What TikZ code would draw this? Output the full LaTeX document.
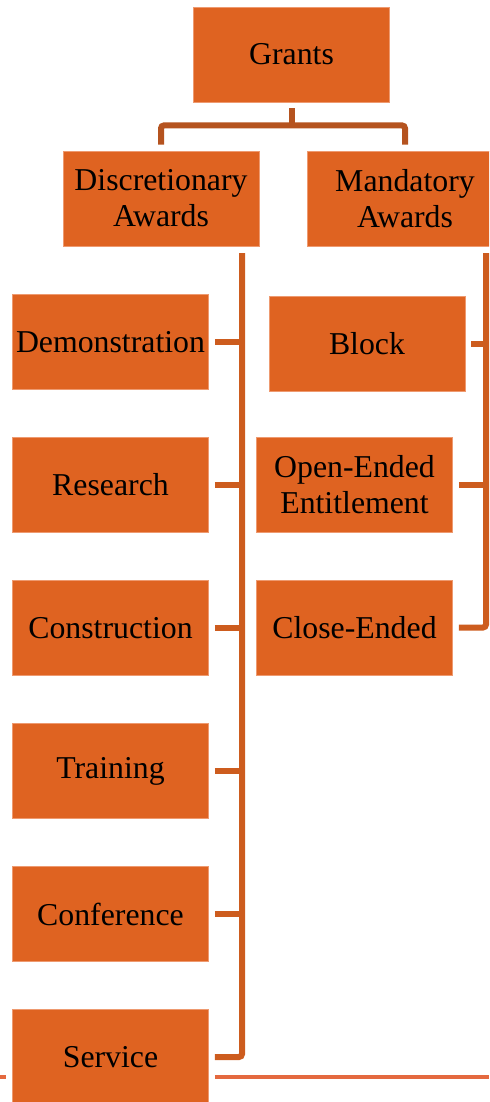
\documentclass[tikz,border=0pt]{standalone}
\usepackage{fontspec}
\setmainfont{Liberation Serif}
\newfontfamily\grantfont{Liberation Serif}
\usepackage{tikz}
\usetikzlibrary{calc}
\usetikzlibrary{positioning}
\usepackage{xcolor}
\definecolor{grant-fill}{HTML}{DF6321}
\definecolor{grant-edge}{HTML}{EE9A70}
\definecolor{grant-line}{HTML}{CD5C1E}
\definecolor{grant-top}{HTML}{B5531F}
\definecolor{grant-rule}{HTML}{E4693F}
\tikzset{x=0.5pt, y=-0.5pt, every text node part/.style={align=center, font={\grantfont\fontsize{15.9}{18}\selectfont}}}
\tikzstyle{block} = [draw=grant-edge, line width=0.4pt, fill=grant-fill, minimum width=98pt, minimum height=47.5pt, inner sep=0pt, text=black]
\tikzstyle{ln} = [draw=grant-line, line width=3pt, rounded corners=1.5pt]
\tikzstyle{lntop} = [draw=grant-top, line width=3pt, rounded corners=1.5pt]
\begin{document}
\begin{tikzpicture}
      \clip (0,0) rectangle (489,1102);
      \node[block] (grants) at (291.5,54.5) {Grants};
      \node[block] (disc) at (161,198.5) {Discretionary\\Awards};
      \node[block] (mand) at (405,198.5) {Mandatory\\Awards};
      % discretionary column
      \node[block] (demo) at (110.5,342) {Demonstration};
      \node[block] (res) at (110.5,485) {Research};
      \node[block] (cons) at (110.5,628) {Construction};
      \node[block] (train) at (110.5,771) {Training};
      \node[block] (conf) at (110.5,914) {Conference};
      \node[block] (serv) at (110.5,1057) {Service};
      % mandatory column
      \node[block] (blk) at (367,343.5) {Block};
      \node[block] (open) at (354.5,484.5) {Open-Ended\\Entitlement};
      \node[block] (close) at (354.5,627.5) {Close-Ended};
      % page rule
      \draw[grant-rule, line width=2pt] (0,1077) -- ([xshift=-3pt]serv.west |- 0,1077);
      \draw[grant-rule, line width=2pt] ([xshift=3pt]serv.east |- 0,1077) -- (489,1077);
      % top fork
      \draw[lntop] ([yshift=-3pt]grants.south) -- ++(0,17) coordinate (fork);
      \draw[lntop] ([yshift=3pt]disc.north) |- (fork) -| ([yshift=3pt]mand.north);
      % spines
      \coordinate (lsp) at (242,253);
      \coordinate (rsp) at (486,253);
      \draw[ln] (lsp) |- ([xshift=3pt]serv.east);
      \draw[ln] (rsp) |- ([xshift=3pt]close.east);
      \foreach \n in {demo,res,cons,train,conf}
        \draw[ln] ([xshift=3pt]\n.east) -- (\n.east -| lsp);
      \foreach \n in {blk,open}
        \draw[ln] ([xshift=3pt]\n.east) -- (\n.east -| rsp);
    \end{tikzpicture}
\end{document}
